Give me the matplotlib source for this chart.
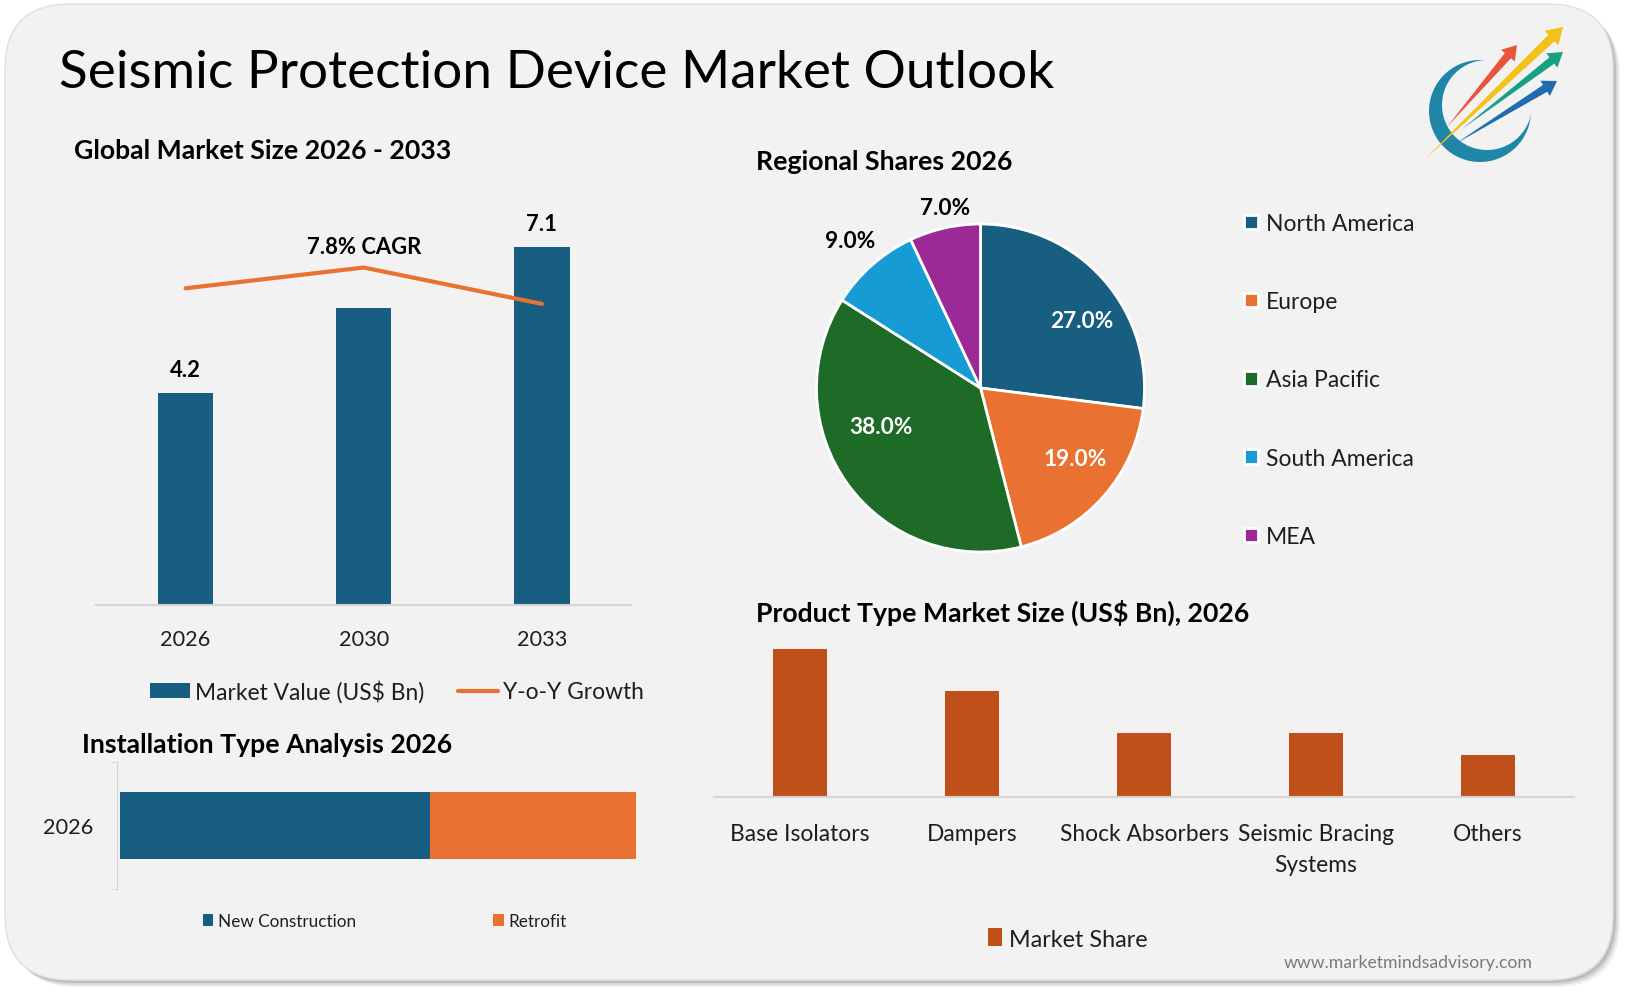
import numpy as np
import matplotlib.pyplot as plt
from matplotlib.patches import FancyBboxPatch, Circle, Polygon

plt.rcParams['font.family'] = ['Lato', 'DejaVu Sans']

# ---- data ----
years = ['2026', '2030', '2033']
market_value = [4.2, 5.9, 7.1]
yoy_growth = [7.4, 7.8, 7.1]
value_labels = ['4.2', '', '7.1']
cagr_text = '7.8% CAGR'

regions = ['North America', 'Europe', 'Asia Pacific', 'South America', 'MEA']
region_share = [27.0, 19.0, 38.0, 9.0, 7.0]

product_types = ['Base Isolators', 'Dampers', 'Shock Absorbers',
                 'Seismic Bracing\nSystems', 'Others']
product_share = [35, 25, 15, 15, 10]

install_types = ['New Construction', 'Retrofit']
install_share = [60, 40]

# ---- colours ----
BLUE = '#185e80'
ORANGE = '#e97132'
REGION_COLORS = [BLUE, ORANGE, '#1d6b26', '#179bd5', '#9c2a96']
RUST = '#c05019'
CARD = '#f2f2f2'
TXT = '#1e1e1e'
SECTION = 19.2

W, H = 1627, 995
fig = plt.figure(figsize=(W / 100, H / 100), dpi=100)
fig.patch.set_facecolor('white')


def px_axes(left, top, right, bottom):
    # axes placed by pixel box (origin top-left)
    ax = fig.add_axes([left / W, 1 - bottom / H, (right - left) / W, (bottom - top) / H])
    ax.set_facecolor('none')
    return ax


def fig_xy(x, y):
    return (x / W, 1 - y / H)


# background card
bg = fig.add_axes([0, 0, 1, 1])
bg.set_xlim(0, W)
bg.set_ylim(H, 0)
bg.axis('off')
for off, a in [(7, 0.10), (5, 0.18), (3, 0.25)]:
    bg.add_patch(FancyBboxPatch((5 + off, 5 + off), 1608, 976,
                                boxstyle='round,pad=0,rounding_size=65',
                                fc='#707070', ec='none', alpha=a))
bg.add_patch(FancyBboxPatch((5, 5), 1608, 976, boxstyle='round,pad=0,rounding_size=65',
                            fc=CARD, ec='#e0e0e0', lw=1))

bg.text(59, 74, 'Seismic Protection Device Market Outlook', fontsize=38.2,
        color='black', va='center', ha='left')
bg.text(74, 151, 'Global Market Size 2026 - 2033', fontsize=SECTION, fontweight='bold',
        va='center', ha='left')
bg.text(756, 162, 'Regional Shares 2026', fontsize=SECTION, fontweight='bold',
        va='center', ha='left')
bg.text(756, 613, 'Product Type Market Size (US$ Bn), 2026', fontsize=SECTION,
        fontweight='bold', va='center', ha='left')
bg.text(82, 745, 'Installation Type Analysis 2026', fontsize=SECTION, fontweight='bold',
        va='center', ha='left')
bg.text(1533, 963, 'www.marketmindsadvisory.com', fontsize=12.7, color='#7a7a7a',
        va='center', ha='right')

# logo: ring + four tapered arrows
bg.add_patch(Circle((1480, 112), 51, fc='#1f86a8', ec='none'))
bg.add_patch(Circle((1487, 106), 45, fc=CARD, ec='none'))


def arrow(tail, tip, color, shaft=3.5, head=9, head_len=14):
    tail = np.array(tail, float)
    tip = np.array(tip, float)
    d = (tip - tail) / np.linalg.norm(tip - tail)
    n = np.array([-d[1], d[0]])
    base = tip - d * head_len
    pts = [tail, base + n * shaft, base + n * head, tip, base - n * head, base - n * shaft]
    bg.add_patch(Polygon(pts, closed=True, fc=color, ec='none'))


arrow((1425, 160), (1563, 28), '#f4c01a', shaft=4.5, head=10, head_len=16)
arrow((1447, 128), (1517, 46), '#e8553a', shaft=4)
arrow((1462, 130), (1563, 53), '#18a085', shaft=4)
arrow((1455, 145), (1557, 82), '#1f6cae', shaft=4)

# ---- chart 1: market size bars + growth line ----
ax1 = px_axes(96.5, 200, 631, 606)
x = np.arange(len(years))
bars = ax1.bar(x, market_value, width=0.31, color=BLUE, label='Market Value (US$ Bn)')
ax1.set_xlim(-0.5, 2.5)
ax1.set_ylim(0, 8.06)
ax1.set_yticks([])
ax1.set_xticks(x, years)
ax1.tick_params(axis='x', length=0, pad=17, labelsize=15.6, labelcolor=TXT)
for s in ['top', 'right', 'left']:
    ax1.spines[s].set_visible(False)
ax1.spines['bottom'].set_color('#d4d4d4')
ax1.spines['bottom'].set_linewidth(1.5)
for xi, v, lab in zip(x, market_value, value_labels):
    if lab:
        ax1.annotate(lab, (xi, v), xytext=(0, 24), textcoords='offset pixels',
                     ha='center', va='center', fontsize=15.8, fontweight='bold')

ax1b = ax1.twinx()
line, = ax1b.plot(x, yoy_growth, color=ORANGE, lw=3, solid_capstyle='round',
                  label='Y-o-Y Growth')
ax1b.set_ylim(1.3, 9.12)
ax1b.axis('off')
ax1b.annotate(cagr_text, (1, yoy_growth[1]), xytext=(0, 21), textcoords='offset pixels',
              ha='center', va='center', fontsize=15.8, fontweight='bold')

fig.legend(handles=[bars, line], loc='center', bbox_to_anchor=fig_xy(397, 692), ncol=2,
           frameon=False, fontsize=16.4, handlelength=1.75, handleheight=0.6,
           handletextpad=0.2, columnspacing=1.5, labelcolor=TXT)

# ---- chart 2: regional pie ----
cx, cy, r = 980.5, 389, 164
ax2 = px_axes(cx - r, cy - r, cx + r, cy + r)
wedges, _ = ax2.pie(region_share, colors=REGION_COLORS, startangle=90, counterclock=False,
                    wedgeprops=dict(edgecolor='white', linewidth=2))
ax2.set_xlim(-1, 1)
ax2.set_ylim(-1, 1)
ax2.set_aspect('equal')
cum = np.cumsum(region_share) - np.array(region_share) / 2
mid = 90 - 3.6 * cum
# label placement: (radius factor, angle nudge in degrees)
label_pos = [(0.74, -7.8), (0.72, 5.0), (0.65, -14.7), (1.2, 0.0), (1.12, -1.5)]
for i, v in enumerate(region_share):
    dist, nudge = label_pos[i]
    ang = np.deg2rad(mid[i] + nudge)
    ax2.text(dist * np.cos(ang), dist * np.sin(ang), f'{v:.1f}%',
             ha='center', va='center', fontsize=16.3, fontweight='bold',
             color='white' if dist < 1 else 'black')

fig.legend(wedges, regions, loc='center left', bbox_to_anchor=fig_xy(1244, 381),
           frameon=False, fontsize=16.5, handlelength=0.6, handleheight=0.6,
           handletextpad=0.35, labelspacing=2.5, borderpad=0, borderaxespad=0,
           labelcolor=TXT)

# ---- chart 3: product type bars ----
ax3 = px_axes(714, 640, 1574, 798)
xp = np.arange(len(product_types))
pbars = ax3.bar(xp, product_share, width=0.31, color=RUST, label='Market Share')
ax3.set_xlim(-0.5, len(product_types) - 0.5)
ax3.set_ylim(0, 37.3)
ax3.set_yticks([])
ax3.set_xticks(xp, product_types, linespacing=1.55)
ax3.tick_params(axis='x', length=0, pad=19, labelsize=16.4, labelcolor=TXT)
for s in ['top', 'right', 'left']:
    ax3.spines[s].set_visible(False)
ax3.spines['bottom'].set_color('#d4d4d4')
ax3.spines['bottom'].set_linewidth(1.5)
fig.legend(handles=[pbars], loc='center', bbox_to_anchor=fig_xy(1068, 940), frameon=False,
           fontsize=16.8, handlelength=0.6, handleheight=0.8, handletextpad=0.3,
           labelcolor=TXT)

# ---- chart 4: installation type stacked bar ----
ax4 = px_axes(120, 763, 636, 890)
left = 0
handles = []
for name, v, c in zip(install_types, install_share, [BLUE, ORANGE]):
    handles.append(ax4.barh(0, v, left=left, height=0.52, color=c, label=name))
    left += v
ax4.set_xlim(0, 100)
ax4.set_ylim(-0.5, 0.5)
ax4.set_xticks([])
ax4.set_yticks([0], ['2026'])
ax4.set_yticks([-0.5, 0.5], minor=True)
ax4.tick_params(axis='y', which='major', length=0, pad=17, labelsize=15.6, labelcolor=TXT)
ax4.tick_params(axis='y', which='minor', length=4, color='#d4d4d4')
for s in ['top', 'right', 'bottom']:
    ax4.spines[s].set_visible(False)
ax4.spines['left'].set_color('#d4d4d4')
ax4.spines['left'].set_position(('outward', 2))
fig.legend(handles=handles, loc='center', bbox_to_anchor=fig_xy(385, 922), ncol=2,
           frameon=False, fontsize=12.3, handlelength=0.6, handleheight=0.7,
           handletextpad=0.3, columnspacing=8.0, labelcolor=TXT)

fig.savefig('out.png', dpi=100, facecolor='white')
